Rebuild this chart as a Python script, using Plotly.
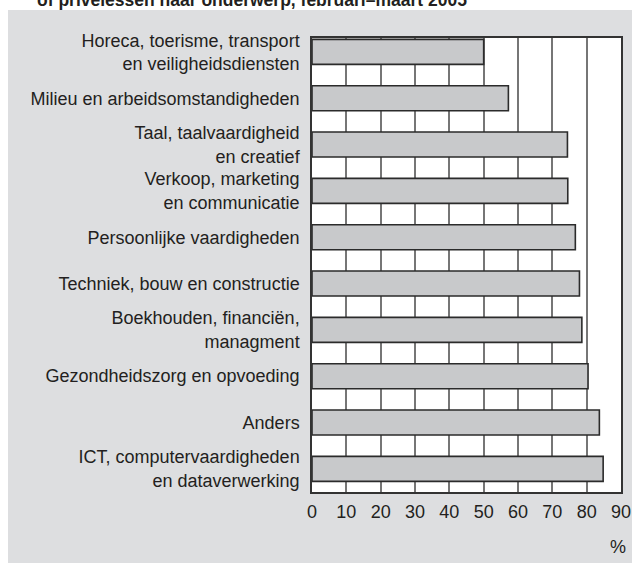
import plotly.graph_objects as go

categories = [
    "Horeca, toerisme, transport<br>en veiligheidsdiensten",
    "Milieu en arbeidsomstandigheden",
    "Taal, taalvaardigheid<br>en creatief",
    "Verkoop, marketing<br>en communicatie",
    "Persoonlijke vaardigheden",
    "Techniek, bouw en constructie",
    "Boekhouden, financiën,<br>managment",
    "Gezondheidszorg en opvoeding",
    "Anders",
    "ICT, computervaardigheden<br>en dataverwerking",
]
values = [50.0, 57.2, 74.4, 74.5, 76.7, 77.9, 78.6, 80.4, 83.7, 84.8]
x_ticks = [0, 10, 20, 30, 40, 50, 60, 70, 80, 90]
title_text = "of privélessen naar onderwerp, februari–maart 2005"
unit_text = "%"

FONT = "Liberation Sans, Arial, sans-serif"
GRAY_BG = "#dddee0"
TEXT = "#231f20"

W, H = 632, 563
L, R, T, B = 312, 11, 38, 71
PW, PH = W - L - R, H - T - B


def px_x(p):
    return (p - L) / PW


def px_y(p):
    return (H - B - p) / PH


fig = go.Figure()
fig.add_trace(go.Bar(
    x=values,
    y=categories,
    orientation="h",
    width=0.54,
    marker=dict(color="#c8c9cb", line=dict(color="#2b2b2b", width=1.6)),
    hoverinfo="x",
))

annotations = [
    dict(
        x=px_x(618), xref="paper", xanchor="center",
        y=px_y(547), yref="paper", yanchor="middle",
        text=unit_text, showarrow=False,
        font=dict(family=FONT, size=18, color=TEXT),
    ),
    dict(
        x=px_x(35), xref="paper", xanchor="left",
        y=px_y(0), yref="paper", yanchor="middle",
        text="<b>" + title_text + "</b>", showarrow=False,
        font=dict(family=FONT, size=17.5, color=TEXT),
    ),
]

fig.update_layout(
    template="none",
    width=W, height=H,
    margin=dict(l=L, r=R, t=T, b=B, pad=0),
    paper_bgcolor=GRAY_BG,
    plot_bgcolor="white",
    showlegend=False,
    annotations=annotations,
    shapes=[
        dict(type="rect", xref="paper", yref="paper", layer="below",
             x0=px_x(0), x1=px_x(W),
             y0=px_y(10), y1=px_y(-5),
             fillcolor="white", line=dict(width=0)),
        dict(type="rect", xref="paper", yref="paper", layer="below",
             x0=px_x(0), x1=px_x(8),
             y0=px_y(H), y1=px_y(-5),
             fillcolor="white", line=dict(width=0)),
    ],
)

fig.update_xaxes(
    automargin=False,
    range=[0, 90],
    tickvals=x_ticks,
    ticktext=[str(v) for v in x_ticks],
    showgrid=True, gridcolor="#767676", gridwidth=1.5,
    zeroline=False,
    showline=True, linecolor="#333333", linewidth=1.5, mirror=True,
    ticks="", ticklabelstandoff=3,
    tickfont=dict(family=FONT, size=18, color=TEXT),
)
fig.update_yaxes(
    automargin=False,
    type="category",
    categoryorder="array", categoryarray=categories,
    range=[9.5, -0.3],
    showgrid=False, zeroline=False,
    showline=True, linecolor="#333333", linewidth=1.5, mirror=True,
    ticks="", ticklabelstandoff=7,
    tickfont=dict(family=FONT, size=18, color=TEXT),
)

fig.write_html(
    "out.html",
    config={"displayModeBar": False},
    post_script="document.body.style.margin='0';document.body.style.overflow='hidden';",
)
